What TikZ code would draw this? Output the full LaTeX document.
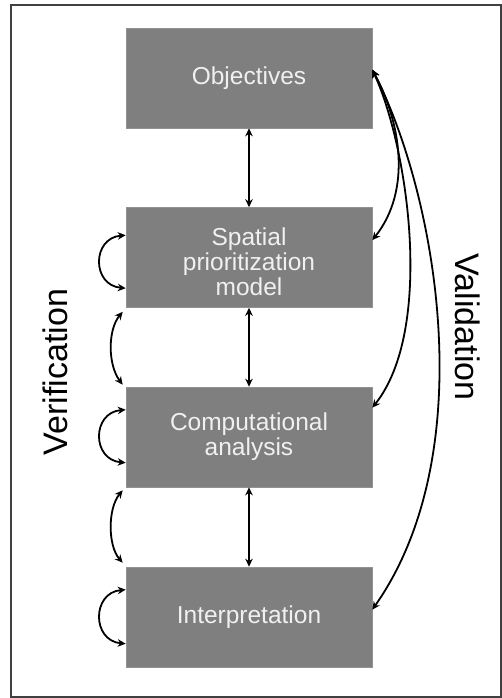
\documentclass[tikz,border=0pt]{standalone}
\usepackage{fontspec}
\setmainfont{Liberation Sans}
\usetikzlibrary{arrows.meta,calc}
\definecolor{boxgray}{RGB}{127,127,127}
\definecolor{boxtext}{RGB}{240,240,240}
\begin{document}
\begin{tikzpicture}[x=1pt,y=-1pt,
  stage/.style={fill=boxgray,draw=boxgray!85!white,line width=0.6pt,minimum width=246pt,minimum height=100pt,inner sep=0pt,
    text=boxtext,font=\fontsize{24.5}{25}\selectfont,align=center},
  conn/.style={line width=1.8pt,{Stealth[length=8pt,width=7.5pt]}-{Stealth[length=8pt,width=7.5pt]}},
  side/.style={font=\fontsize{34}{36}\selectfont,inner sep=0pt}]
\useasboundingbox (0,0) rectangle (502,698);
\draw[line width=1.6pt,draw=black!75] (11,5) rectangle (501,697);
\node[stage] (obj) at (249,78) {Objectives};
\node[stage] (sp) at (249,257.5) {};
\node[font=\fontsize{24.5}{25}\selectfont,text=boxtext,align=center] (sptext) at (249,262) {Spatial\\prioritization\\model};
\node[stage] (ca) at (249,437) {Computational\\analysis};
\node[stage] (in) at (249,617) {Interpretation};
% vertical connectors
\draw[conn] (obj.south) -- (sp.north);
\draw[conn] (sp.south) -- (ca.north);
\draw[conn] (ca.south) -- (in.north);
% verification loops
\foreach \n/\a/\b in {sp/28/81, ca/23/76, in/23/77}{
  \draw[conn] ($(\n.north west)+(0,\a)$) .. controls ($(\n.north west)+(-34,\a+3)$) and ($(\n.north west)+(-34,\b-3)$) .. ($(\n.north west)+(0,\b)$);
}
\draw[conn] ($(sp.south west)+(-3,4)$) .. controls ($(sp.south west)+(-18,22)$) and ($(ca.north west)+(-18,-22)$) .. ($(ca.north west)+(-3,-2)$);
\draw[conn] ($(ca.south west)+(-3,3)$) .. controls ($(ca.south west)+(-18,21)$) and ($(in.north west)+(-18,-21)$) .. ($(in.north west)+(-3,-4)$);
% validation arcs
\coordinate (v0) at ($(obj.north east)+(0,42)$);
\draw[conn] (v0) .. controls ($(v0)+(28,52)$) and ($(v0)+(40,120)$) .. ($(sp.north east)+(0,33)$);
\draw[conn] (v0) .. controls ($(v0)+(36,78)$) and ($(v0)+(62,260)$) .. ($(ca.north east)+(0,21)$);
\draw[conn] (v0) .. controls ($(v0)+(62,120)$) and ($(v0)+(112,380)$) .. ($(in.north east)+(0,43)$);
% side labels
\node[side,rotate=90] (ver) at (55,372) {Verification};
\node[side,rotate=-90] (val) at (468,327) {Validation};
\end{tikzpicture}
\end{document}
